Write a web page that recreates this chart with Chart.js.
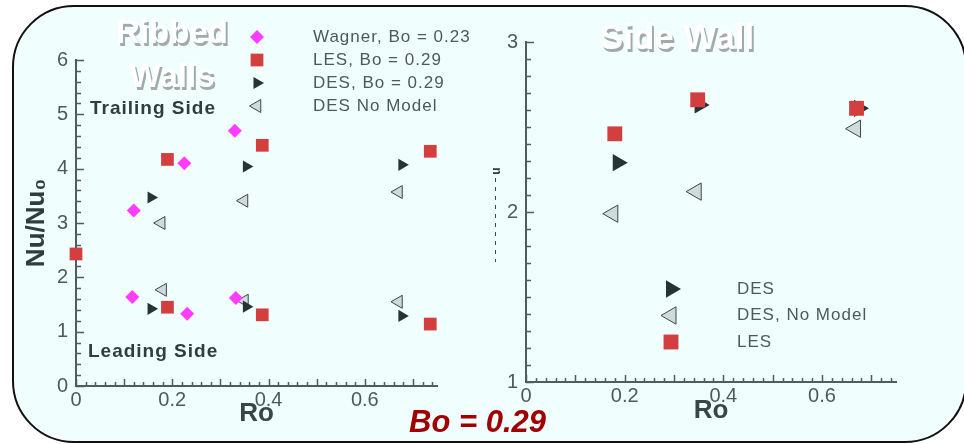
<!DOCTYPE html>
<html>
<head>
<meta charset="utf-8">
<script src="https://cdn.jsdelivr.net/npm/chart.js@4.4.1/dist/chart.umd.min.js"></script>
<style>
  html, body { margin: 0; padding: 0; background: #fff; }
  body { width: 964px; height: 444px; position: relative; overflow: hidden; }
  #panel {
    position: absolute; left: 12px; top: 5px; width: 951px; height: 434px;
    border: 2px solid #111; border-radius: 62px; background: #f0fefe;
  }
  canvas { position: absolute; left: 0; top: 0; }
</style>
</head>
<body>
<div id="panel"></div>
<canvas id="ribbed" width="964" height="444"></canvas>
<canvas id="side" width="964" height="444"></canvas>
<script>
// Ribbed walls (trailing side points first, then leading side)
const ribWagnerRo = [0.12, 0.225, 0.33, 0.117, 0.231, 0.332];
const ribWagnerNu = [3.23, 4.1, 4.7, 1.64, 1.33, 1.62];
const ribLesRo = [0, 0.19, 0.387, 0.736, 0.19, 0.387, 0.736];
const ribLesNu = [2.43, 4.17, 4.43, 4.32, 1.45, 1.31, 1.14];
const ribDesRo = [0.156, 0.354, 0.677, 0.156, 0.354, 0.677];
const ribDesNu = [3.47, 4.04, 4.07, 1.42, 1.46, 1.29];
const ribNoModelRo = [0.177, 0.349, 0.67, 0.18, 0.35, 0.67];
const ribNoModelNu = [3.0, 3.41, 3.57, 1.77, 1.57, 1.55];

// Side wall
const sideDesRo = [0.186, 0.352, 0.675];
const sideDesNu = [2.29, 2.63, 2.61];
const sideNoModelRo = [0.176, 0.345, 0.668];
const sideNoModelNu = [1.99, 2.12, 2.49];
const sideLesRo = [0.18, 0.348, 0.67];
const sideLesNu = [2.46, 2.66, 2.61];

const ribLabels = ["Wagner, Bo = 0.23", "LES, Bo = 0.29", "DES, Bo = 0.29", "DES No Model"];
const sideLabels = ["DES", "DES, No Model", "LES"];
const roTicks = [0, 0.2, 0.4, 0.6];

const MAGENTA = "#ff3cff";
const RED = "#d33f3f";
const DARK = "#263333";
const PALE = "#cfdbdb";
const AXIS = "#4f5d5d";
const TEXT = "#4c5a5a";
const FONT = "'Liberation Sans', Arial, sans-serif";

function pts(xs, ys) {
    return xs.map((x, i) => ({ x: x, y: ys[i] }));
}

function isStep(v, step) {
    return Math.abs(v / step - Math.round(v / step)) < 1e-6;
}

// tick marks drawn inside the axes, longer at the major steps
const innerTicks = {
    id: "innerTicks",
    beforeDatasetsDraw(chart, args, opts) {
        const { ctx, chartArea } = chart;
        const xs = chart.scales.x;
        const ys = chart.scales.y;
        ctx.save();
        ctx.strokeStyle = AXIS;
        ctx.lineWidth = 1.5;
        ctx.beginPath();
        xs.ticks.forEach((t) => {
            const px = Math.round(xs.getPixelForValue(t.value)) + 0.5;
            const len = isStep(t.value, 0.1) ? 7 : 4;
            ctx.moveTo(px, chartArea.bottom);
            ctx.lineTo(px, chartArea.bottom - len);
        });
        ys.ticks.forEach((t) => {
            const py = Math.round(ys.getPixelForValue(t.value)) + 0.5;
            const len = isStep(t.value, 1) ? 8 : 5;
            ctx.moveTo(chartArea.left, py);
            ctx.lineTo(chartArea.left + len, py);
        });
        ctx.stroke();
        ctx.restore();
    },
};

// legend drawn from the datasets themselves
const pointKey = {
    id: "pointKey",
    afterDatasetsDraw(chart, args, opts) {
        const ctx = chart.ctx;
        ctx.save();
        ctx.font = "17px " + FONT;
        ctx.letterSpacing = "1px";
        ctx.textBaseline = "middle";
        chart.data.datasets.forEach((ds, i) => {
            const y = opts.y + i * opts.dy;
            ctx.fillStyle = ds.pointBackgroundColor;
            ctx.strokeStyle = ds.pointBorderColor;
            ctx.lineWidth = ds.pointBorderWidth;
            Chart.helpers.drawPoint(ctx, {
                pointStyle: ds.pointStyle,
                radius: ds.pointRadius,
                rotation: ds.pointRotation,
                borderWidth: ds.pointBorderWidth,
            }, opts.x, y);
            ctx.fillStyle = TEXT;
            ctx.fillText(ds.label, opts.textX, y);
        });
        ctx.restore();
    },
};

// free text on the picture
const notes = {
    id: "notes",
    afterDraw(chart, args, opts) {
        const ctx = chart.ctx;
        ctx.save();
        (opts.items || []).forEach((n) => {
            ctx.font = n.font;
            ctx.textAlign = n.align || "left";
            ctx.textBaseline = "alphabetic";
            ctx.letterSpacing = n.spacing || "0px";
            if (n.shadow) {
                ctx.fillStyle = n.shadow;
                ctx.fillText(n.text, n.x + 2, n.y + 3);
            }
            ctx.fillStyle = n.color;
            ctx.fillText(n.text, n.x, n.y);
        });
        if (opts.stub) {
            // cut-off remains of the side wall axis title
            ctx.strokeStyle = "#3c4848";
            ctx.lineWidth = 1;
            ctx.setLineDash([4, 5]);
            ctx.beginPath();
            ctx.moveTo(495.5, 178);
            ctx.lineTo(495.5, 262);
            ctx.stroke();
            ctx.setLineDash([]);
            ctx.translate(497, 171);
            ctx.rotate(-Math.PI / 2);
            ctx.font = "bold 12px " + FONT;
            ctx.fillStyle = "#2f3d3d";
            ctx.textAlign = "center";
            ctx.textBaseline = "middle";
            ctx.fillText("u", 0, 0);
        }
        ctx.restore();
    },
};

function series(label, xs, ys, style) {
    return Object.assign({
        label: label,
        data: pts(xs, ys),
        showLine: false,
        clip: false,
        pointBorderWidth: 0,
    }, style);
}

function diamond(r) {
    return { pointStyle: "rectRot", pointRadius: r, pointBackgroundColor: MAGENTA, pointBorderColor: MAGENTA };
}
function square(r, order) {
    return { pointStyle: "rect", pointRadius: r, pointBackgroundColor: RED, pointBorderColor: RED, order: order };
}
function rightTri(r) {
    return { pointStyle: "triangle", pointRotation: 90, pointRadius: r, pointBackgroundColor: DARK, pointBorderColor: DARK };
}
function leftTri(r) {
    return {
        pointStyle: "triangle", pointRotation: 270, pointRadius: r,
        pointBackgroundColor: PALE, pointBorderColor: "#3a4747", pointBorderWidth: 1,
    };
}

function axes(yMin, yMax, yStep, yWidth, xHeight, titlePad, yTitle) {
    const tickFont = { family: FONT, size: 20 };
    return {
        x: {
            type: "linear",
            min: 0,
            max: 0.75,
            grid: { display: false, drawTicks: false },
            border: { display: true, color: AXIS, width: 2 },
            ticks: {
                stepSize: 0.02,
                includeBounds: false,
                autoSkip: false,
                minRotation: 0,
                maxRotation: 0,
                padding: 2,
                color: TEXT,
                font: tickFont,
                callback: (v) => (roTicks.some((t) => Math.abs(t - v) < 1e-6) ? String(v) : ""),
            },
            title: {
                display: true,
                text: "Ro",
                color: "#384646",
                font: { family: FONT, size: 26, weight: "bold" },
                padding: { top: 0, bottom: titlePad },
            },
            afterFit: (scale) => { scale.height = xHeight; },
        },
        y: {
            type: "linear",
            min: yMin,
            max: yMax,
            grid: { display: false, drawTicks: false },
            border: { display: true, color: AXIS, width: 2 },
            ticks: {
                stepSize: yStep,
                autoSkip: false,
                padding: 8,
                color: TEXT,
                font: tickFont,
                callback: (v) => (isStep(v, 1) ? String(Math.round(v)) : ""),
            },
            title: yTitle,
            afterFit: (scale) => { scale.width = yWidth; },
        },
    };
}

function init() {
    new Chart(document.getElementById("ribbed").getContext("2d"), {
        type: "scatter",
        data: {
            datasets: [
                series(ribLabels[0], ribWagnerRo, ribWagnerNu, diamond(7)),
                series(ribLabels[1], ribLesRo, ribLesNu, square(9)),
                series(ribLabels[2], ribDesRo, ribDesNu, rightTri(7)),
                series(ribLabels[3], ribNoModelRo, ribNoModelNu, leftTri(7.5)),
            ],
        },
        options: {
            responsive: false,
            animation: false,
            layout: { padding: { left: 0, top: 60, right: 527, bottom: 0 } },
            scales: axes(0, 6, 0.2, 76, 58, 15, {
                display: true,
                text: "Nu/Nu\u2080",
                color: "#2f3d3d",
                font: { family: FONT, size: 26, weight: "bold" },
                padding: { top: 21, bottom: 0 },
            }),
            plugins: {
                legend: { display: false },
                tooltip: { enabled: false },
                pointKey: { x: 257, y: 37, dy: 23, textX: 313 },
                notes: {
                    items: [
                        { text: "Ribbed", x: 172, y: 43, align: "center", font: "bold 33px " + FONT, color: "#ffffff", shadow: "#a3aaaa" },
                        { text: "Walls", x: 172, y: 87, align: "center", font: "bold 33px " + FONT, color: "#ffffff", shadow: "#a3aaaa" },
                        { text: "Trailing Side", x: 90, y: 114, font: "bold 19px " + FONT, color: "#2f3d3d", spacing: "1px" },
                        { text: "Leading Side", x: 88, y: 357, font: "bold 19px " + FONT, color: "#2f3d3d", spacing: "1px" },
                    ],
                },
            },
        },
        plugins: [innerTicks, pointKey, notes],
    });

    new Chart(document.getElementById("side").getContext("2d"), {
        type: "scatter",
        data: {
            datasets: [
                series(sideLabels[0], sideDesRo, sideDesNu, Object.assign(rightTri(10), { order: 2 })),
                series(sideLabels[1], sideNoModelRo, sideNoModelNu, Object.assign(leftTri(10), { order: 3 })),
                series(sideLabels[2], sideLesRo, sideLesNu, square(10.5, 1)),
            ],
        },
        options: {
            responsive: false,
            animation: false,
            layout: { padding: { left: 480, top: 42, right: 68, bottom: 0 } },
            scales: axes(1, 3, 0.1, 46, 62, 18, { display: false }),
            plugins: {
                legend: { display: false },
                tooltip: { enabled: false },
                pointKey: { x: 671, y: 289, dy: 26.5, textX: 737 },
                notes: {
                    stub: true,
                    items: [
                        { text: "Side Wall", x: 677, y: 49, align: "center", font: "bold 35px " + FONT, color: "#ffffff", shadow: "#a3aaaa" },
                        { text: "Bo = 0.29", x: 409, y: 432, font: "italic bold 31px " + FONT, color: "#a00000" },
                    ],
                },
            },
        },
        plugins: [innerTicks, pointKey, notes],
    });
}

init();
</script>
</body>
</html>
